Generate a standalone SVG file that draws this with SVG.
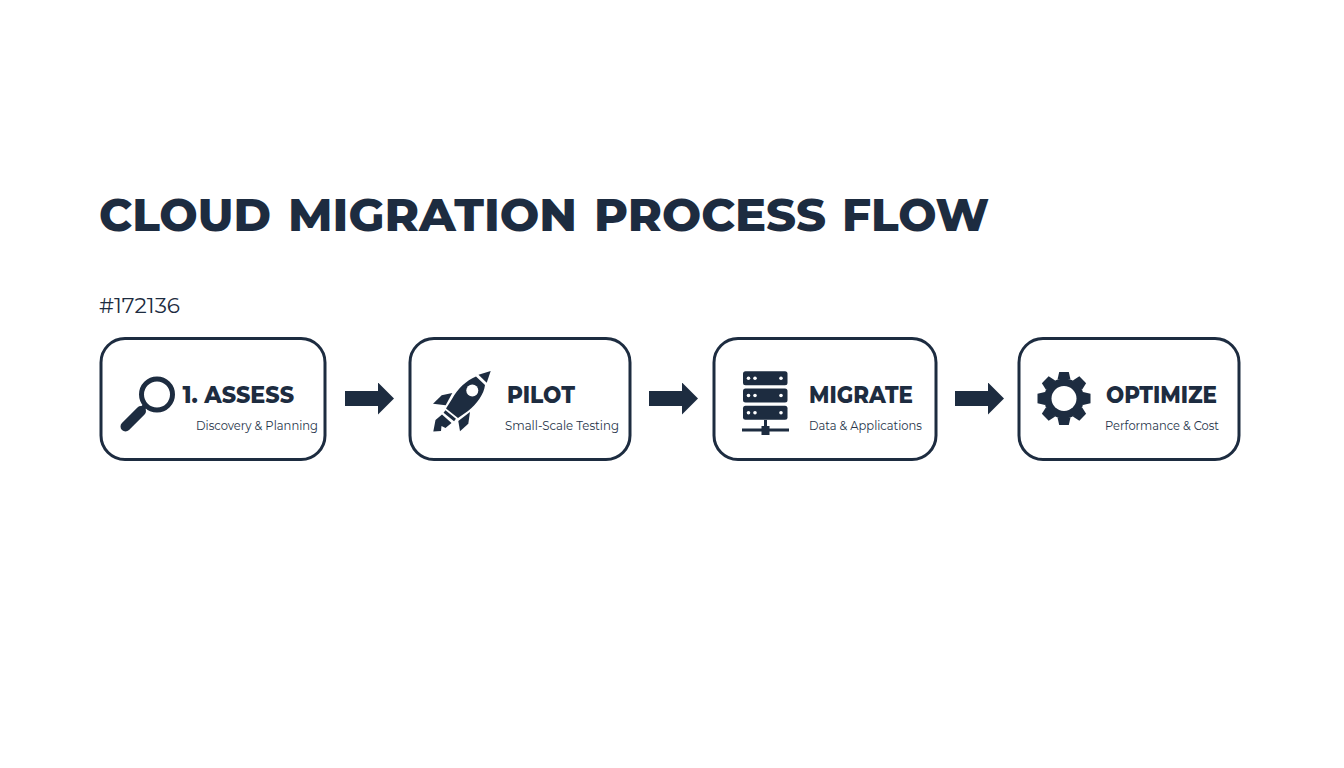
<svg xmlns="http://www.w3.org/2000/svg" xmlns:xlink="http://www.w3.org/1999/xlink" width="1344" height="768" viewBox="0 0 1344 768">
<defs><style>
.box{fill:#fff;stroke:#1d2c40;stroke-width:3}
.ic{fill:#1d2c40}
.h{font-family:Montserrat,"Open Sans","Liberation Sans",sans-serif;font-weight:800;font-size:23px;fill:#1d2c40}
.s{font-family:Montserrat,"Open Sans","Liberation Sans",sans-serif;font-size:12.4px;fill:#26344a}
.t{font-family:Montserrat,"Open Sans","Liberation Sans",sans-serif;font-weight:800;font-size:46px;fill:#1d2c40}
</style>
<marker id="ah" viewBox="0 0 16 32" refX="0" refY="16" markerWidth="16" markerHeight="32" markerUnits="userSpaceOnUse" orient="auto"><path d="M0 0L16 16L0 32Z" fill="#1d2c40"/></marker>
<path id="tooth" d="M-6.500 -19L-4.800 -26.500H4.800L6.500 -19Z" fill="#1d2c40"/>
</defs>
<rect width="1344" height="768" fill="#fff"/>
<g id="title">
<text class="t" x="99" y="231" textLength="172" lengthAdjust="spacingAndGlyphs">CLOUD</text>
<text class="t" x="288" y="231" textLength="289" lengthAdjust="spacingAndGlyphs">MIGRATION</text>
<text class="t" x="594" y="231" textLength="232" lengthAdjust="spacingAndGlyphs">PROCESS</text>
<text class="t" x="842" y="231" textLength="147" lengthAdjust="spacingAndGlyphs">FLOW</text>
</g>
<text id="code" x="99" y="313" textLength="81" lengthAdjust="spacingAndGlyphs" style="font-family:Montserrat,'Open Sans','Liberation Sans',sans-serif;font-size:21px;fill:#1d2c40">#172136</text>
<g id="connectors">
<line x1="345" y1="398.500" x2="378" y2="398.500" stroke="#1d2c40" stroke-width="15" marker-end="url(#ah)"/>
<line x1="649" y1="398.500" x2="682" y2="398.500" stroke="#1d2c40" stroke-width="15" marker-end="url(#ah)"/>
<line x1="955" y1="398.500" x2="988" y2="398.500" stroke="#1d2c40" stroke-width="15" marker-end="url(#ah)"/>
</g>
<g id="assess">
<rect class="box" x="101" y="338.500" width="224" height="121" rx="24"/>
<circle cx="157" cy="394.500" r="15.500" fill="none" stroke="#1d2c40" stroke-width="5"/>
<path d="M146 405L140 411" stroke="#1d2c40" stroke-width="5"/>
<path d="M141 411L125.500 426.500" stroke="#1d2c40" stroke-width="10" stroke-linecap="round"/>
<text class="h" x="182.500" y="403" textLength="111.500" lengthAdjust="spacingAndGlyphs">1. ASSESS</text>
<text class="s" x="196" y="430" textLength="122" lengthAdjust="spacingAndGlyphs">Discovery &amp; Planning</text>
</g>
<g id="pilot">
<rect class="box" x="410" y="338.500" width="220" height="121" rx="24"/>
<path class="ic" d="M478.500 374.700L490.700 371L486.700 382.700Z"/>
<path class="ic" d="M476 376.500L485 385C484 394 477 404 468 411L458 418L446 408.500L452 399C458 388 466 381 476 376.500Z"/>
<circle cx="472.300" cy="390.500" r="6" fill="#fff"/>
<path class="ic" d="M433 403.700L441.700 395.300L452.300 393L445.700 405.300Z"/>
<path class="ic" d="M458.300 421L470 412L468.300 423.700L460 431.300Z"/>
<path d="M444.500 411.500L455 420" stroke="#1d2c40" stroke-width="3"/>
<path class="ic" d="M433.300 431.500L435.500 420L442 414.500L451.500 423L445.500 428L441.500 426L441 431Z"/>
<text class="h" x="507" y="403" textLength="68" lengthAdjust="spacingAndGlyphs">PILOT</text>
<text class="s" x="505" y="430" textLength="114" lengthAdjust="spacingAndGlyphs">Small-Scale Testing</text>
</g>
<g id="migrate">
<rect class="box" x="714" y="338.500" width="222" height="121" rx="24"/>
<rect class="ic" x="743" y="371.300" width="44.500" height="14" rx="2.500"/>
<rect class="ic" x="743" y="388.500" width="44.500" height="14" rx="2.500"/>
<rect class="ic" x="743" y="405.800" width="44.500" height="14" rx="2.500"/>
<g fill="#fff"><circle cx="748.500" cy="378.300" r="1.800"/><circle cx="755" cy="378.300" r="1.800"/><circle cx="781" cy="378.300" r="1.800"/><circle cx="748.500" cy="395.500" r="1.800"/><circle cx="755" cy="395.500" r="1.800"/><circle cx="781" cy="395.500" r="1.800"/><circle cx="748.500" cy="412.800" r="1.800"/><circle cx="755" cy="412.800" r="1.800"/><circle cx="781" cy="412.800" r="1.800"/></g>
<rect class="ic" x="742" y="428.500" width="47" height="3"/>
<rect class="ic" x="761.500" y="426" width="8" height="9"/>
<rect class="ic" x="764" y="420" width="3" height="7"/>
<text class="h" x="809" y="403" textLength="104" lengthAdjust="spacingAndGlyphs">MIGRATE</text>
<text class="s" x="809" y="430" textLength="113" lengthAdjust="spacingAndGlyphs">Data &amp; Applications</text>
</g>
<g id="optimize">
<rect class="box" x="1019" y="338.500" width="220" height="121" rx="24"/>
<g transform="translate(1064 398.500)">
<circle r="20" fill="#1d2c40"/>
<use xlink:href="#tooth"/>
<use xlink:href="#tooth" transform="rotate(45)"/>
<use xlink:href="#tooth" transform="rotate(90)"/>
<use xlink:href="#tooth" transform="rotate(135)"/>
<use xlink:href="#tooth" transform="rotate(180)"/>
<use xlink:href="#tooth" transform="rotate(225)"/>
<use xlink:href="#tooth" transform="rotate(270)"/>
<use xlink:href="#tooth" transform="rotate(315)"/>
<circle r="12.500" fill="#fff"/>
</g>
<text class="h" x="1106" y="403" textLength="111" lengthAdjust="spacingAndGlyphs">OPTIMIZE</text>
<text class="s" x="1105" y="430" textLength="114" lengthAdjust="spacingAndGlyphs">Performance &amp; Cost</text>
</g>
</svg>
